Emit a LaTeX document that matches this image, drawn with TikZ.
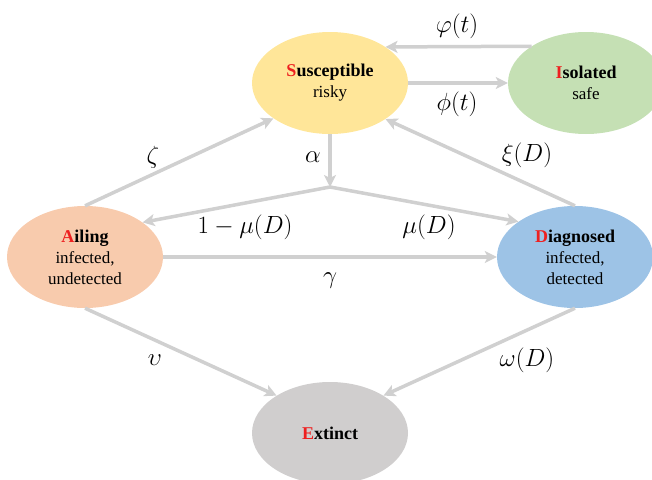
\documentclass[tikz,border=0pt]{standalone}
\usepackage{amsmath}
\usepackage{xcolor}
\usepackage{fontspec}
\setmainfont{Liberation Serif}
\usepackage{tikz}
\usetikzlibrary{shapes.geometric,arrows.meta}

\definecolor{susfill}{HTML}{FFE699}
\definecolor{isofill}{HTML}{C5E0B4}
\definecolor{ailfill}{HTML}{F8CBAD}
\definecolor{diafill}{HTML}{9DC3E6}
\definecolor{extfill}{HTML}{D0CECE}
\definecolor{flowgray}{HTML}{D0D0D0}
\definecolor{initial}{HTML}{EE2020}

\newcommand{\first}[1]{\textcolor{initial}{#1}}
\newcommand{\headline}[1]{{\fontsize{18}{21}\selectfont\bfseries #1}}

\begin{document}
\begin{tikzpicture}[
  x=1pt, y=-1pt,
  compartment/.style={ellipse, draw=none, minimum width=156pt, minimum height=102pt,
    inner sep=0pt, align=center, font=\fontsize{17}{21}\selectfont},
  flow/.style={draw=flowgray, line width=3.5pt,
    -{Stealth[length=12pt, width=12pt, inset=3pt]}},
  rate/.style={font=\fontsize{25}{27}\selectfont, inner sep=0pt}
]
  \useasboundingbox (0,0) rectangle (652,479);

  \node[compartment, fill=susfill] (sus) at (330,83) {\headline{\first{S}usceptible}\\risky};
  \node[compartment, fill=isofill] (iso) at (586,83) {\headline{\first{I}solated}\\safe};
  \node[compartment, fill=ailfill] (ail) at (85,257) {\headline{\first{A}iling}\\infected,\\undetected};
  \node[compartment, fill=diafill] (dia) at (575,257) {\headline{\first{D}iagnosed}\\infected,\\detected};
  \node[compartment, fill=extfill] (ext) at (330,433) {\headline{\first{E}xtinct}};
  \coordinate (split) at (330,187);

  \draw[flow] (iso.146.94) -- (sus.33.06);
  \draw[flow] (sus.east) -- (iso.west);
  \draw[flow] (sus.south) -- (split);
  \draw[flow] (split) -- (ail.31.5);
  \draw[flow] (split) -- (dia.148.5);
  \draw[flow] (ail.north) -- (sus.212.5);
  \draw[flow] (dia.north) -- (sus.327.5);
  \draw[flow] (ail.east) -- (dia.west);
  \draw[flow] (ail.south) -- (ext.145);
  \draw[flow] (dia.south) -- (ext.35);

  \node[rate] (rphi) at (457,26) {$\varphi(t)$};
  \node[rate] (rphib) at (457,104) {$\phi(t)$};
  \node[rate] (ralpha) at (313,157) {$\alpha$};
  \node[rate] (rzeta) at (153,157) {$\zeta$};
  \node[rate] (rxi) at (527,155) {$\xi(D)$};
  \node[rate] (rnotmu) at (245,227) {$1-\mu(D)$};
  \node[rate] (rmu) at (429,227) {$\mu(D)$};
  \node[rate] (rgamma) at (330,281) {$\gamma$};
  \node[rate] (rups) at (155,360) {$\upsilon$};
  \node[rate] (romega) at (527,360) {$\omega(D)$};
\end{tikzpicture}
\end{document}
